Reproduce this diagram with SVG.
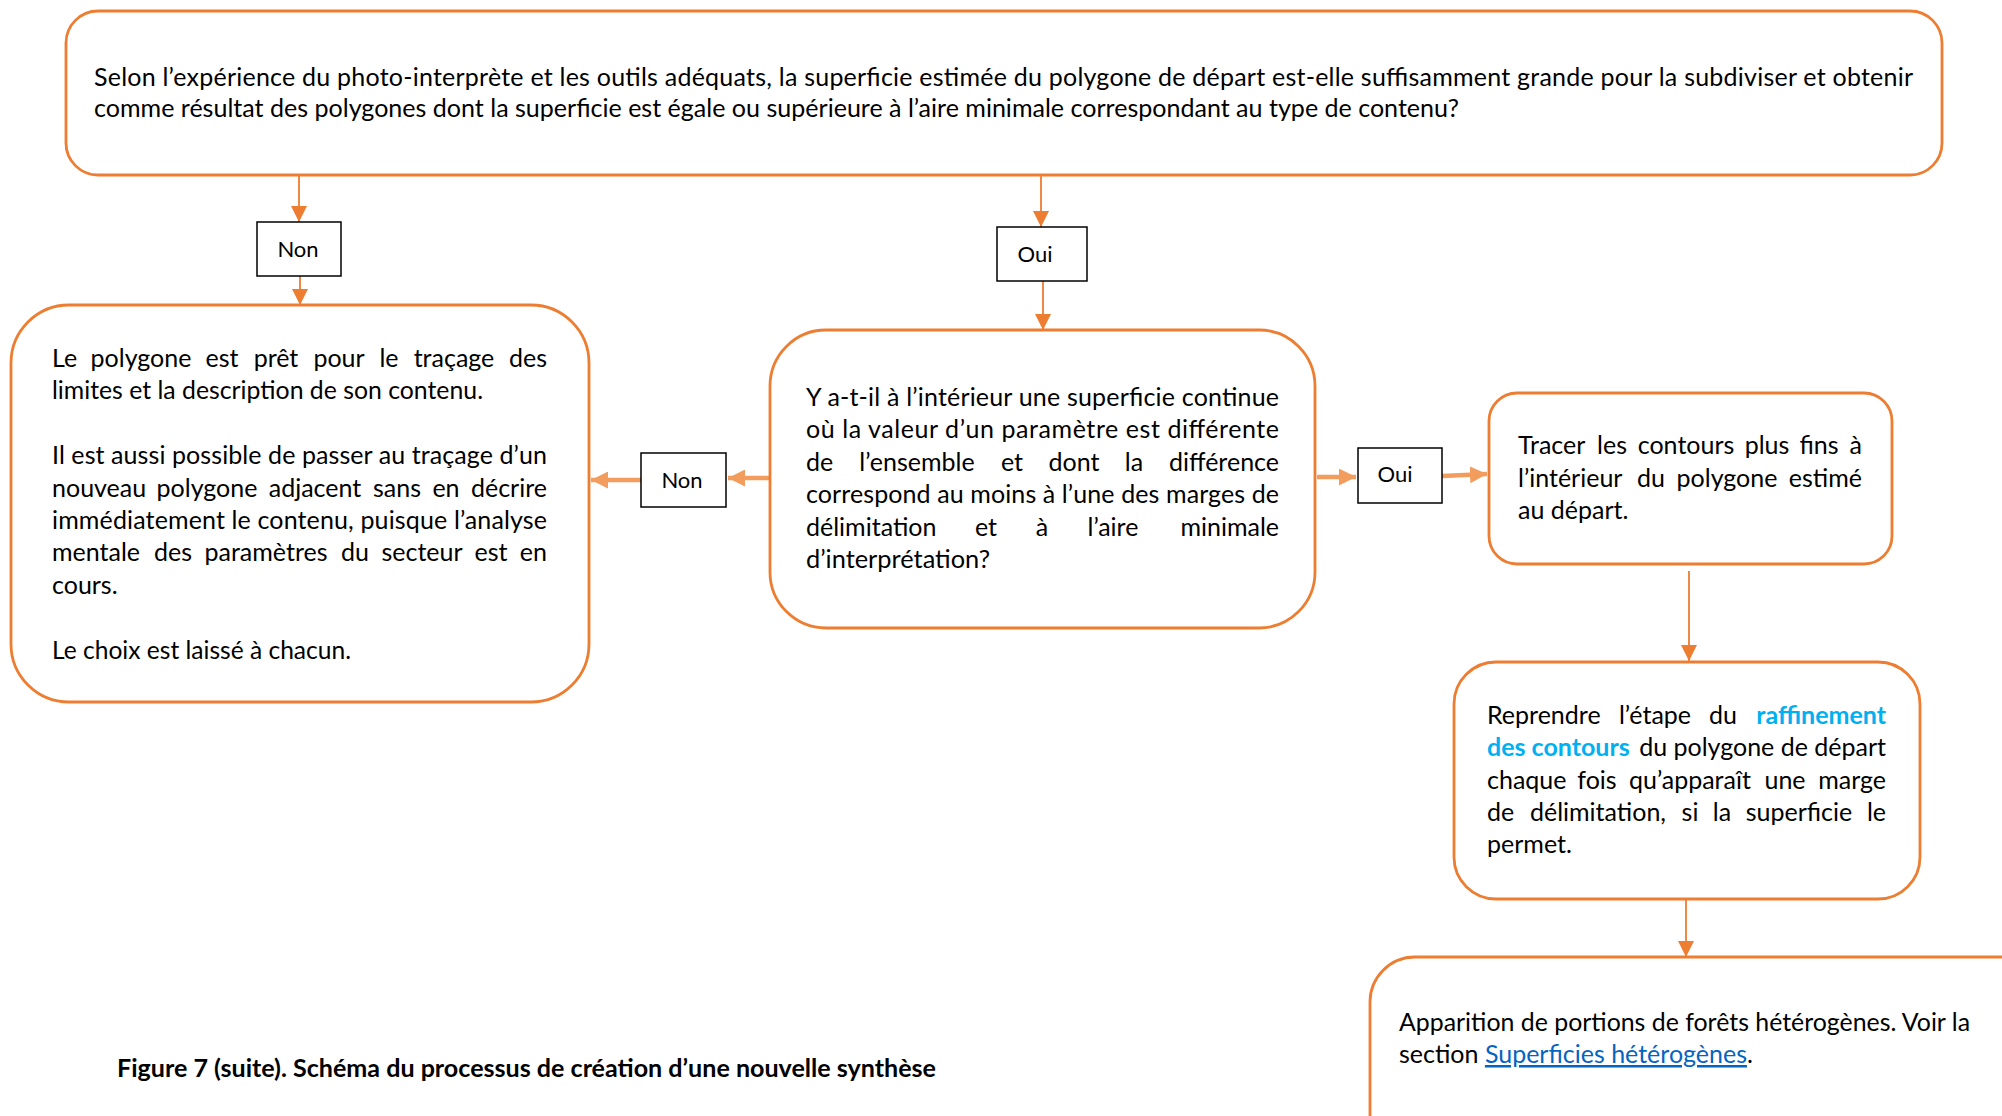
<svg xmlns="http://www.w3.org/2000/svg" width="2002" height="1116" viewBox="0 0 2002 1116">
<defs>
<style>
.box{fill:#fff;stroke:#ED7D31;stroke-width:2.8}
.lbl{fill:#fff;stroke:#000;stroke-width:1.5}
.t{font-family:Lato,"Liberation Sans",sans-serif;font-size:25px;fill:#000}
.lt{font-family:Lato,"Liberation Sans",sans-serif;font-size:22px;fill:#000;text-anchor:middle}
.bl{fill:#00B0F0;font-weight:bold}
.e{text-anchor:end}
.m{text-anchor:middle}
.cap{font-family:Lato,"Liberation Sans",sans-serif;font-size:24px;font-weight:bold;fill:#000}
.thin{stroke:#ED7D31;stroke-width:1.8;fill:none}
.thick{stroke:#F29D5E;stroke-width:4.5;fill:none}
</style>
<marker id="ah" viewBox="0 0 10 10" refX="10" refY="5" markerWidth="16" markerHeight="16" markerUnits="userSpaceOnUse" orient="auto"><path d="M0,0 L10,5 L0,10 z" fill="#ED7D31"/></marker>
<marker id="ahk" viewBox="0 0 10 10" refX="10" refY="5" markerWidth="17" markerHeight="17" markerUnits="userSpaceOnUse" orient="auto"><path d="M0,0 L10,5 L0,10 z" fill="#F29D5E"/></marker>
</defs>
<rect width="2002" height="1116" fill="#fff"/>

<g id="connectors">
<line class="thin" x1="299" y1="175" x2="299" y2="222" marker-end="url(#ah)"/>
<line class="thin" x1="300" y1="276" x2="300" y2="305" marker-end="url(#ah)"/>
<line class="thin" x1="1041" y1="175" x2="1041" y2="227" marker-end="url(#ah)"/>
<line class="thin" x1="1043" y1="281" x2="1043" y2="330" marker-end="url(#ah)"/>
<line class="thick" x1="769" y1="478" x2="728" y2="478" marker-end="url(#ahk)"/>
<line class="thick" x1="641" y1="480" x2="591" y2="480" marker-end="url(#ahk)"/>
<line class="thick" x1="1317" y1="477" x2="1356" y2="477" marker-end="url(#ahk)"/>
<line class="thick" x1="1442" y1="476" x2="1487" y2="474" marker-end="url(#ahk)"/>
<line class="thin" x1="1689" y1="571" x2="1689" y2="661" marker-end="url(#ah)"/>
<line class="thin" x1="1686" y1="900" x2="1686" y2="957" marker-end="url(#ah)"/>
</g>

<g id="n-top">
<rect class="box" x="66" y="11" width="1876" height="164" rx="32"/>
<text class="t" x="94" y="86" textLength="1819" lengthAdjust="spacing">Selon l’expérience du photo-interprète et les outils adéquats, la superficie estimée du polygone de départ est-elle suffisamment grande pour la subdiviser et obtenir</text>
<text class="t" x="94" y="117" textLength="1365" lengthAdjust="spacingAndGlyphs">comme résultat des polygones dont la superficie est égale ou supérieure à l’aire minimale correspondant au type de contenu?</text>
</g>

<g id="n-non1">
<rect class="lbl" x="257" y="222" width="84" height="54"/>
<text class="lt" x="298" y="257">Non</text>
</g>

<g id="n-oui1">
<rect class="lbl" x="997" y="227" width="90" height="54"/>
<text class="lt" x="1035" y="262">Oui</text>
</g>

<g id="n-left">
<rect class="box" x="11" y="305" width="578" height="397" rx="58"/>
<text class="t" y="367"><tspan x="52">Le</tspan><tspan x="141" class="m">polygone</tspan><tspan x="222" class="m">est</tspan><tspan x="276" class="m">prêt</tspan><tspan x="339" class="m">pour</tspan><tspan x="389" class="m">le</tspan><tspan x="454" class="m">traçage</tspan><tspan x="547" class="e">des</tspan></text>
<text class="t" x="52" y="399" textLength="431" lengthAdjust="spacingAndGlyphs">limites et la description de son contenu.</text>
<text class="t" x="52" y="464" textLength="495" lengthAdjust="spacing">Il est aussi possible de passer au traçage d’un</text>
<text class="t" y="497"><tspan x="52">nouveau</tspan><tspan x="207" class="m">polygone</tspan><tspan x="315" class="m">adjacent</tspan><tspan x="397" class="m">sans</tspan><tspan x="446" class="m">en</tspan><tspan x="547" class="e">décrire</tspan></text>
<text class="t" x="52" y="529" textLength="495" lengthAdjust="spacing">immédiatement le contenu, puisque l’analyse</text>
<text class="t" y="561"><tspan x="52">mentale</tspan><tspan x="173" class="m">des</tspan><tspan x="266" class="m">paramètres</tspan><tspan x="355" class="m">du</tspan><tspan x="422" class="m">secteur</tspan><tspan x="491" class="m">est</tspan><tspan x="547" class="e">en</tspan></text>
<text class="t" x="52" y="594">cours.</text>
<text class="t" x="52" y="659" textLength="299" lengthAdjust="spacingAndGlyphs">Le choix est laissé à chacun.</text>
</g>

<g id="n-non2">
<rect class="lbl" x="641" y="453" width="85" height="54"/>
<text class="lt" x="682" y="488">Non</text>
</g>

<g id="n-center">
<rect class="box" x="770" y="330" width="545" height="298" rx="56"/>
<text class="t" x="806" y="406" textLength="473" lengthAdjust="spacing">Y a-t-il à l’intérieur une superficie continue</text>
<text class="t" x="806" y="438" textLength="473" lengthAdjust="spacing">où la valeur d’un paramètre est différente</text>
<text class="t" y="471"><tspan x="806">de</tspan><tspan x="917" class="m">l’ensemble</tspan><tspan x="1012" class="m">et</tspan><tspan x="1074" class="m">dont</tspan><tspan x="1134" class="m">la</tspan><tspan x="1279" class="e">différence</tspan></text>
<text class="t" x="806" y="503" textLength="473" lengthAdjust="spacing">correspond au moins à l’une des marges de</text>
<text class="t" y="536"><tspan x="806">délimitation</tspan><tspan x="986" class="m">et</tspan><tspan x="1042" class="m">à</tspan><tspan x="1113" class="m">l’aire</tspan><tspan x="1279" class="e">minimale</tspan></text>
<text class="t" x="806" y="568" textLength="184" lengthAdjust="spacingAndGlyphs">d’interprétation?</text>
</g>

<g id="n-oui2">
<rect class="lbl" x="1358" y="448" width="84" height="55"/>
<text class="lt" x="1395" y="482">Oui</text>
</g>

<g id="n-tracer">
<rect class="box" x="1489" y="393" width="403" height="171" rx="28"/>
<text class="t" y="454"><tspan x="1518">Tracer</tspan><tspan x="1612" class="m">les</tspan><tspan x="1686" class="m">contours</tspan><tspan x="1767" class="m">plus</tspan><tspan x="1819" class="m">fins</tspan><tspan x="1862" class="e">à</tspan></text>
<text class="t" y="487"><tspan x="1518">l’intérieur</tspan><tspan x="1651" class="m">du</tspan><tspan x="1727" class="m">polygone</tspan><tspan x="1862" class="e">estimé</tspan></text>
<text class="t" x="1518" y="519">au départ.</text>
</g>

<g id="n-reprendre">
<rect class="box" x="1454" y="662" width="466" height="237" rx="42"/>
<text class="t" y="724"><tspan x="1487">Reprendre</tspan><tspan x="1655" class="m">l’étape</tspan><tspan x="1723" class="m">du</tspan><tspan x="1886" class="bl e">raffinement</tspan></text>
<text class="t" y="756"><tspan x="1487" class="bl">des contours</tspan><tspan x="1886" class="e">du polygone de départ</tspan></text>
<text class="t" y="789"><tspan x="1487">chaque</tspan><tspan x="1597" class="m">fois</tspan><tspan x="1690" class="m">qu’apparaît</tspan><tspan x="1785" class="m">une</tspan><tspan x="1886" class="e">marge</tspan></text>
<text class="t" y="821"><tspan x="1487">de</tspan><tspan x="1598" class="m">délimitation,</tspan><tspan x="1690" class="m">si</tspan><tspan x="1722" class="m">la</tspan><tspan x="1799" class="m">superficie</tspan><tspan x="1886" class="e">le</tspan></text>
<text class="t" x="1487" y="853">permet.</text>
</g>

<g id="n-apparition">
<rect class="box" x="1370" y="957" width="700" height="250" rx="45"/>
<text class="t" x="1399" y="1031" textLength="571" lengthAdjust="spacingAndGlyphs">Apparition de portions de forêts hétérogènes. Voir la</text>
<text class="t" x="1399" y="1063">section <tspan fill="#0563C1" text-decoration="underline">Superficies hétérogènes</tspan>.</text>
</g>

<g id="caption">
<text class="cap" x="117" y="1077" textLength="819" lengthAdjust="spacingAndGlyphs">Figure 7 (suite). Schéma du processus de création d’une nouvelle synthèse</text>
</g>
</svg>
